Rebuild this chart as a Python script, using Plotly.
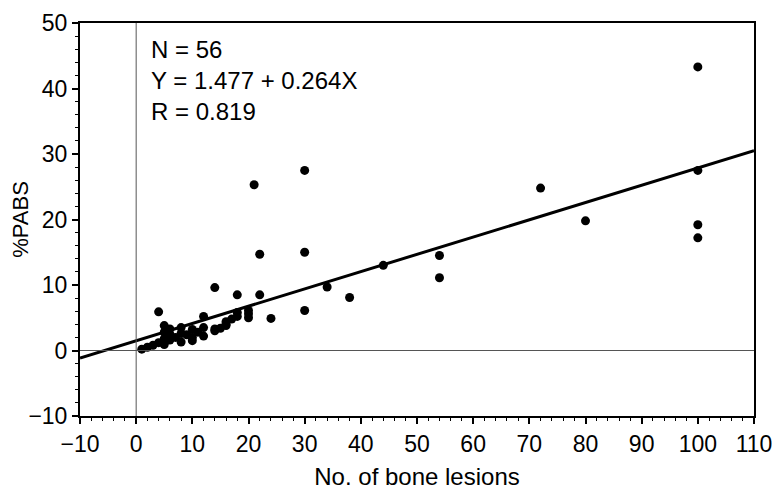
import plotly.graph_objects as go

# Data
lesions = [100, 100, 100, 100, 72, 80, 54, 54, 44, 30, 21, 30, 22, 34, 38, 30, 24, 14, 4, 18, 22,
           1, 2, 3, 4, 5, 5, 5, 5, 6, 6, 7, 8, 8, 8, 9, 10, 10, 10, 12, 12, 12, 14, 14, 16, 16, 17,
           18, 18, 20, 20, 20, 16, 15, 6, 11]
pabs = [43.3, 27.5, 19.2, 17.2, 24.8, 19.8, 14.5, 11.1, 13.0, 27.5, 25.3, 15.0, 14.7, 9.7, 8.1, 6.1,
        4.9, 9.6, 5.9, 8.5, 8.5,
        0.2, 0.5, 0.8, 1.2, 0.9, 1.8, 2.8, 3.8, 2.5, 3.3, 2.0, 1.3, 2.6, 3.5, 2.4, 1.5, 2.0, 3.2,
        2.2, 3.5, 5.2, 3.0, 3.3, 3.8, 4.4, 4.8, 5.2, 5.8, 5.0, 5.6, 6.1, 4.0, 3.4, 1.6, 2.8]

# Regression line Y = 1.477 + 0.264X drawn across the axis range
fit_x = [-10, 110]
fit_y = [-1.16, 30.52]

stats_text = "N = 56<br>Y = 1.477 + 0.264X<br>R = 0.819"

font = dict(family="Liberation Sans, Arial, sans-serif", size=24, color="black")
tick_font = dict(family="Liberation Sans, Arial, sans-serif", size=23, color="black")
ytitle_font = dict(family="Liberation Sans, Arial, sans-serif", size=22, color="black")

fig = go.Figure()

fig.add_trace(go.Scatter(x=fit_x, y=fit_y, mode="lines",
                         line=dict(color="black", width=3), showlegend=False))
fig.add_trace(go.Scatter(x=lesions, y=pabs, mode="markers",
                         marker=dict(color="black", size=9), showlegend=False))

# reference lines at x=0 and y=0
fig.add_shape(type="line", x0=0, x1=0, y0=-10, y1=50, xref="x", yref="y",
              line=dict(color="#555555", width=1))
fig.add_shape(type="line", x0=-10, x1=110, y0=0, y1=0, xref="x", yref="y",
              line=dict(color="#555555", width=1))

fig.add_annotation(x=2.3, y=48.3, xref="x", yref="y", text=stats_text,
                   showarrow=False, xanchor="left", yanchor="top", align="left",
                   font=font)

fig.update_xaxes(range=[-10, 110], tick0=-10, dtick=10, showgrid=False, zeroline=False,
                 showline=True, linecolor="black", linewidth=2, mirror=True, automargin=False,
                 ticklabeloverflow="allow",
                 ticks="outside", ticklen=6, tickwidth=2, tickcolor="black",
                 minor=dict(ticks="outside", ticklen=3, dtick=2, tickcolor="black", tickwidth=1),
                 tickfont=tick_font, title=dict(text="No. of bone lesions", font=font, standoff=13))
fig.update_yaxes(range=[-10, 50], tick0=-10, dtick=10, showgrid=False, zeroline=False,
                 showline=True, linecolor="black", linewidth=2, mirror=True, automargin=False,
                 ticklabeloverflow="allow",
                 ticks="outside", ticklen=6, tickwidth=2, tickcolor="black",
                 minor=dict(ticks="outside", ticklen=3, dtick=2, tickcolor="black", tickwidth=1),
                 tickfont=tick_font, title=dict(text="%PABS", font=ytitle_font, standoff=14))

fig.update_layout(width=772, height=482, plot_bgcolor="white", paper_bgcolor="white",
                  margin=dict(l=72, r=26, t=15, b=74))

fig.write_html("out.html")
